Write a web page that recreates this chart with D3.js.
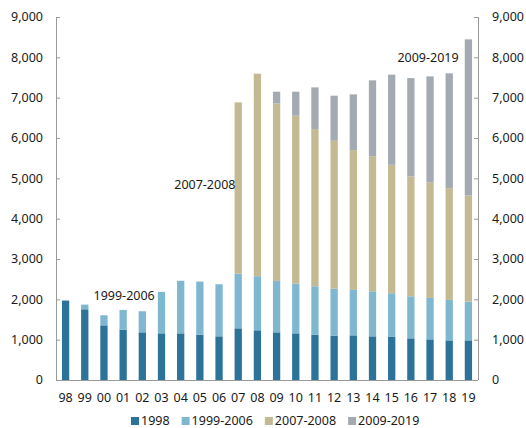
<!DOCTYPE html>
<html>
<head>
<meta charset="utf-8">
<script src="https://cdn.jsdelivr.net/npm/d3@7"></script>
<style>
  body { margin: 0; background: #fff; }
  svg text { font-family: "Noto Sans", sans-serif; fill: #1a1a1a; }
</style>
</head>
<body>
<div id="chart"></div>
<script>
// year labels on x axis
const years = ["98","99","00","01","02","03","04","05","06","07","08","09","10","11","12","13","14","15","16","17","18","19"];
const cohorts = ["1998", "1999-2006", "2007-2008", "2009-2019"];
const colors = ["#2b7399", "#7fb7d0", "#c3b992", "#a3aab1"];

// values per cohort
const c1998 = [1970,1753,1355,1248,1182,1157,1157,1124,1083,1281,1232,1182,1157,1124,1100,1107,1083,1067,1033,1008,983,983];
const c1999_2006 = [0,116,249,489,522,1027,1303,1316,1291,1357,1341,1275,1234,1200,1166,1127,1117,1083,1042,1027,1003,960];
const c2007_2008 = [0,0,0,0,0,0,0,0,0,4244,5021,4401,4161,3897,3666,3465,3350,3186,2971,2870,2770,2631];
const c2009_2019 = [0,0,0,0,0,0,0,0,0,0,0,290,596,1034,1117,1382,1879,2234,2440,2623,2847,3872];
const yTicks = [0,1000,2000,3000,4000,5000,6000,7000,8000,9000];

// annotation labels
const notes = [
    {text: "1999-2006", year: "01", value: 2080, dx: 1},
    {text: "2007-2008", year: "05", value: 4850, dx: 5},
    {text: "2009-2019", year: "17", value: 8000, dx: -2}
];

const width = 526, height = 428;
const margin = {top: 17, right: 48, bottom: 48, left: 56};

const rows = years.map((y, i) => ({
    year: y,
    "1998": c1998[i],
    "1999-2006": c1999_2006[i],
    "2007-2008": c2007_2008[i],
    "2009-2019": c2009_2019[i]
}));
const series = d3.stack().keys(cohorts)(rows);

const svg = d3.select("#chart").append("svg")
    .attr("width", width)
    .attr("height", height);

const x = d3.scaleBand()
    .domain(years)
    .range([margin.left, width - margin.right])
    .paddingInner(0.62)
    .paddingOuter(0.31);

const y = d3.scaleLinear()
    .domain([0, 9000])
    .range([height - margin.bottom, margin.top]);

const fmt = d3.format(",");

// bars
svg.append("g")
    .selectAll("g")
    .data(series)
    .join("g")
    .attr("fill", (d, i) => colors[i])
    .selectAll("rect")
    .data(d => d)
    .join("rect")
    .attr("x", d => x(d.data.year))
    .attr("width", x.bandwidth())
    .attr("y", d => y(d[1]))
    .attr("height", d => Math.max(0, y(d[0]) - y(d[1])));

// left and right axes, ticks pointing inward
const yAxisL = svg.append("g")
    .attr("transform", `translate(${margin.left},0)`)
    .call(d3.axisRight(y).tickValues(yTicks).tickSize(4).tickFormat(() => ""));
const yAxisR = svg.append("g")
    .attr("transform", `translate(${width - margin.right},0)`)
    .call(d3.axisLeft(y).tickValues(yTicks).tickSize(4).tickFormat(() => ""));
[yAxisL, yAxisR].forEach(g => {
    g.selectAll("path, line").attr("stroke", "#9a9a9a");
    g.select(".domain").attr("d", `M0.5,${y(9000)}V${y(0)}`);
});

// tick labels
svg.append("g").selectAll("text")
    .data(yTicks)
    .join("text")
    .attr("x", margin.left - 13)
    .attr("y", d => y(d))
    .attr("dy", "0.35em")
    .attr("text-anchor", "end")
    .style("font-size", "12.5px")
    .text(d => fmt(d));
svg.append("g").selectAll("text")
    .data(yTicks)
    .join("text")
    .attr("x", width - margin.right + 14)
    .attr("y", d => y(d))
    .attr("dy", "0.35em")
    .attr("text-anchor", "start")
    .style("font-size", "12.5px")
    .text(d => fmt(d));

// baseline
svg.append("line")
    .attr("x1", margin.left)
    .attr("x2", width - margin.right)
    .attr("y1", y(0) + 0.5)
    .attr("y2", y(0) + 0.5)
    .attr("stroke", "#9a9a9a");

// x labels
svg.append("g").selectAll("text")
    .data(years)
    .join("text")
    .attr("x", d => x(d) + x.bandwidth() / 2)
    .attr("y", y(0) + 18)
    .attr("dy", "0.35em")
    .attr("text-anchor", "middle")
    .style("font-size", "12.5px")
    .text(d => d);

// annotations
svg.append("g").selectAll("text")
    .data(notes)
    .join("text")
    .attr("x", d => x(d.year) + x.bandwidth() / 2 + d.dx)
    .attr("y", d => y(d.value))
    .attr("dy", "0.35em")
    .attr("text-anchor", "middle")
    .style("font-size", "12.5px")
    .text(d => d.text);

// legend
const legend = svg.append("g")
    .attr("transform", `translate(0,${height - 7})`);
let lx = 131;
cohorts.forEach((c, i) => {
    const item = legend.append("g").attr("transform", `translate(${lx},0)`);
    item.append("rect")
        .attr("x", 0).attr("y", -4)
        .attr("width", 8).attr("height", 8)
        .attr("fill", colors[i]);
    const t = item.append("text")
        .attr("x", 10)
        .attr("dy", "0.35em")
        .style("font-size", "12.5px")
        .text(c);
    lx += 10 + t.node().getComputedTextLength() + 12;
});
</script>
</body>
</html>
